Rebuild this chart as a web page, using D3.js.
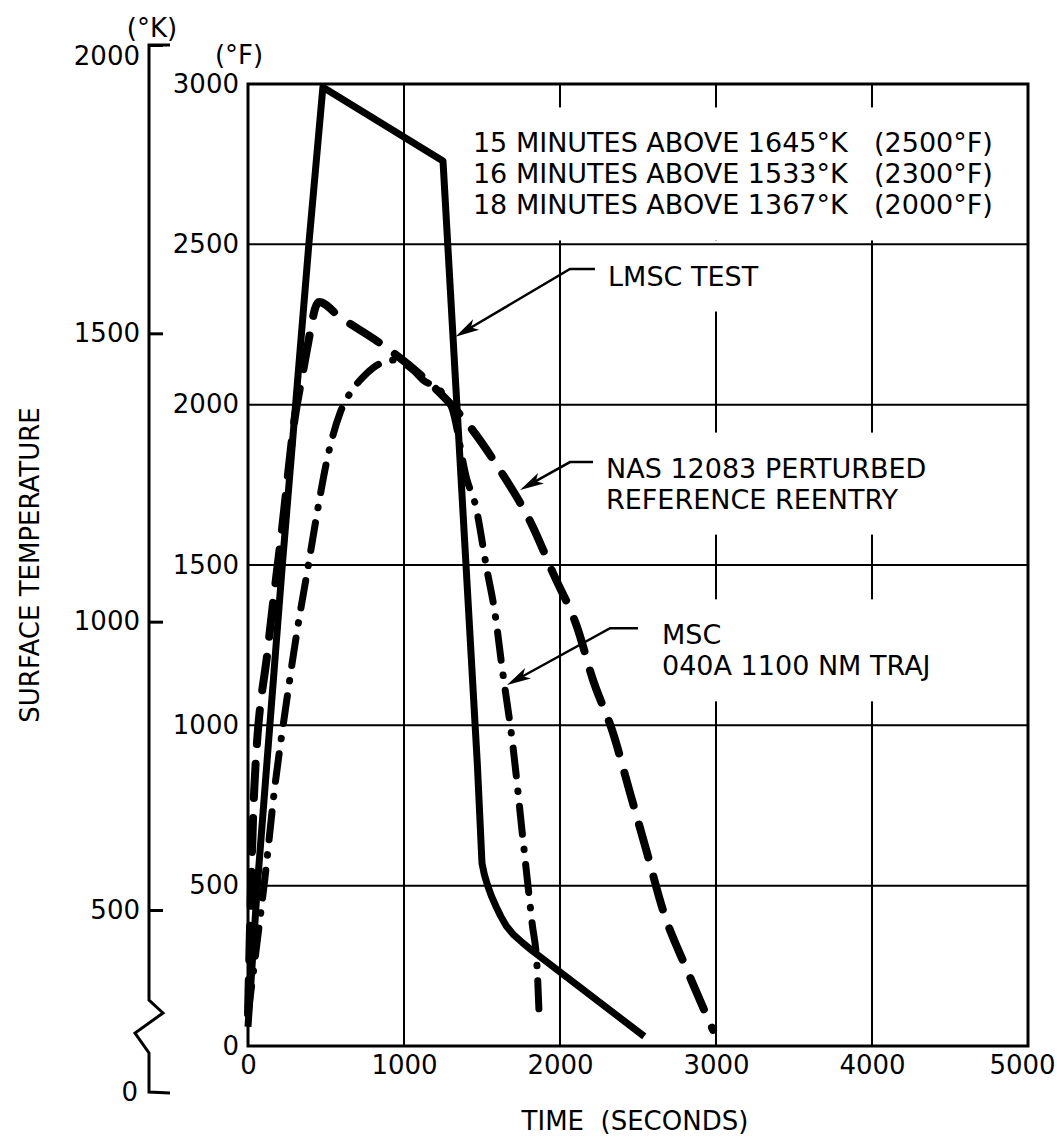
<!DOCTYPE html>
<html>
<head>
<meta charset="utf-8">
<script src="https://cdn.jsdelivr.net/npm/d3@7"></script>
<style>
  body { margin: 0; background: #fff; }
  text { font-family: "DejaVu Sans", sans-serif; fill: #000; }
</style>
</head>
<body>
<script>
// time (seconds) vs surface temperature (deg F)
var lmscTime = [0, 60, 140, 220, 305, 390, 480, 1250, 1470, 1500, 1515, 1535, 1560, 1590, 1620, 1655, 1700, 1760, 1820, 2540]
var lmscTemp = [60, 500, 1000, 1500, 2000, 2500, 2990, 2760, 880, 570, 535, 502, 468, 435, 405, 375, 348, 322, 298, 30]

var nasTime = [0, 40, 130, 220, 300, 355, 400, 430, 455, 590, 846, 1122, 1276, 1404, 1615, 1827, 1955, 2109, 2212, 2340, 2449, 2558, 2660, 2814, 2981]
var nasTemp = [100, 800, 1250, 1620, 1960, 2110, 2230, 2300, 2320, 2273, 2192, 2086, 2014, 1943, 1796, 1618, 1475, 1307, 1141, 976, 789, 602, 424, 237, 50]

var mscTime = [0, 60, 110, 170, 240, 310, 385, 455, 506, 590, 667, 737, 800, 930, 1058, 1122, 1231, 1310, 1404, 1455, 1532, 1583, 1628, 1699, 1763, 1821, 1853, 1865]
var mscTemp = [100, 330, 530, 800, 1050, 1280, 1494, 1696, 1827, 1974, 2045, 2086, 2114, 2139, 2108, 2077, 2045, 1985, 1765, 1693, 1484, 1350, 1182, 932, 642, 384, 246, 112]

var timeTicks = [0, 1000, 2000, 3000, 4000, 5000]
var tempTicksF = [0, 500, 1000, 1500, 2000, 2500, 3000]
var tempTicksK = [500, 1000, 1500, 2000]

var legendMinutes = [15, 16, 18]
var legendK = [1645, 1533, 1367]
var legendF = [2500, 2300, 2000]

var width = 1057, height = 1141
var margin = {top: 84, right: 29, bottom: 95, left: 248}
var w = width - margin.left - margin.right
var h = height - margin.top - margin.bottom

var svg = d3.select("body").append("svg")
    .attr("width", width)
    .attr("height", height)
var g = svg.append("g")
    .attr("transform", "translate(" + margin.left + "," + margin.top + ")")

var x = d3.scaleLinear().domain([0, 5000]).range([0, w])
var y = d3.scaleLinear().domain([0, 3000]).range([h, 0])
// kelvin scale, same slope as the F axis, drawn a little offset in the original
var yK = d3.scaleLinear().domain([500, 2000]).range([826, -39])
var plain = d3.format("d")

var vgridLayer = g.append("g")
var maskLayer = g.append("g")
var hgridLayer = g.append("g")
var curveLayer = g.append("g")
var noteLayer = g.append("g")

// grid: the vertical lines are broken where text sits, the horizontal ones are not
hgridLayer.selectAll(".hgrid")
    .data(tempTicksF)
  .enter().append("line")
    .attr("x1", 0).attr("x2", w)
    .attr("y1", function(d) { return y(d) })
    .attr("y2", function(d) { return y(d) })
    .attr("stroke", "#000").attr("stroke-width", 2)
vgridLayer.selectAll(".vgrid")
    .data(timeTicks)
  .enter().append("line")
    .attr("y1", 0).attr("y2", h)
    .attr("x1", function(d) { return x(d) })
    .attr("x2", function(d) { return x(d) })
    .attr("stroke", "#000").attr("stroke-width", 2)

// F axis labels
g.append("g")
    .call(d3.axisLeft(y).tickValues(tempTicksF).tickFormat(plain).tickSize(0).tickPadding(9))
    .call(function(a) { a.select(".domain").remove() })
    .selectAll("text").style("font-size", "26px").attr("font-family", null)

// time axis labels
var xAxis = g.append("g")
    .attr("transform", "translate(0," + h + ")")
    .call(d3.axisBottom(x).tickValues(timeTicks).tickFormat(plain).tickSize(0).tickPadding(10))
    .call(function(a) { a.select(".domain").remove() })
xAxis.selectAll("text").style("font-size", "26px").attr("font-family", null)
    .attr("dx", function(d) { return d === 5000 ? "-6" : null })

// kelvin axis with a break near zero
var kx = -99
var kAxis = g.append("g").attr("transform", "translate(" + kx + ",0)")
kAxis.call(d3.axisLeft(yK).tickValues(tempTicksK).tickFormat(plain).tickSize(-14).tickPadding(9))
kAxis.select(".domain").remove()
kAxis.selectAll(".tick line").attr("stroke-width", 3)
kAxis.selectAll("text").style("font-size", "26px").attr("font-family", null)
    .attr("dy", function(d) { return d === 2000 ? "0.75em" : "0.32em" })
kAxis.append("path")
    .attr("d", d3.line()([[21, yK(2000)], [0, yK(2000)], [0, 916], [14, 929], [-14, 949], [0, 969], [0, 1008], [21, 1009]]))
    .attr("fill", "none").attr("stroke", "#000").attr("stroke-width", 3)
kAxis.append("text")
    .attr("x", -11).attr("y", 1009).attr("dy", "0.32em")
    .attr("text-anchor", "end").style("font-size", "26px")
    .text("0")

// unit labels
svg.append("text").attr("x", 152).attr("y", 28).attr("dy", "0.35em")
    .attr("text-anchor", "middle").style("font-size", "26px").text("(°K)")
svg.append("text").attr("x", 239).attr("y", 55).attr("dy", "0.35em")
    .attr("text-anchor", "middle").style("font-size", "26px").text("(°F)")

svg.append("text")
    .attr("transform", "translate(30," + (margin.top + h / 2) + ") rotate(-90)")
    .attr("dy", "0.35em").attr("text-anchor", "middle")
    .style("font-size", "26px")
    .text("SURFACE TEMPERATURE")

svg.append("text")
    .attr("x", 635).attr("y", 1121).attr("dy", "0.35em")
    .attr("text-anchor", "middle").style("font-size", "26px")
    .attr("xml:space", "preserve").style("white-space", "pre")
    .text("TIME  (SECONDS)")

// frame
curveLayer.append("rect")
    .attr("width", w).attr("height", h)
    .attr("fill", "none").attr("stroke", "#000").attr("stroke-width", 3)

function series(t, v) {
    return t.map(function(d, i) { return [d, v[i]] })
}

var line = d3.line()
    .x(function(d) { return x(d[0]) })
    .y(function(d) { return y(d[1]) })
var smooth = d3.line()
    .x(function(d) { return x(d[0]) })
    .y(function(d) { return y(d[1]) })
    .curve(d3.curveMonotoneX)

curveLayer.append("path")
    .datum(series(nasTime, nasTemp))
    .attr("d", smooth)
    .attr("fill", "none").attr("stroke", "#000").attr("stroke-width", 8)
    .attr("stroke-linecap", "round").attr("stroke-dasharray", "34 20")

curveLayer.append("path")
    .datum(series(mscTime, mscTemp))
    .attr("d", smooth)
    .attr("fill", "none").attr("stroke", "#000").attr("stroke-width", 7)
    .attr("stroke-linecap", "round").attr("stroke-dasharray", "28 15 0.5 15")

curveLayer.append("path")
    .datum(series(lmscTime, lmscTemp))
    .attr("d", line)
    .attr("fill", "none").attr("stroke", "#000").attr("stroke-width", 7)
    .attr("stroke-linejoin", "round")

// text blocks get a white backing that breaks the grid lines, as in the original
function backing(sel, padX, padY) {
    var b = sel.node().getBBox()
    maskLayer.append("rect")
        .attr("x", b.x - padX).attr("y", b.y - padY)
        .attr("width", b.width + 2 * padX).attr("height", b.height + 2 * padY)
        .attr("fill", "#fff")
}

// legend block
var legend = noteLayer.append("g")
legendMinutes.forEach(function(m, i) {
    var ty = y(2816) + i * 31
    var t = legend.append("text").attr("y", ty).attr("dy", "0.35em").style("font-size", "27px")
    t.append("tspan").attr("x", x(1442))
        .text(m + " MINUTES ABOVE " + legendK[i] + "°K")
    t.append("tspan").attr("x", x(4013))
        .text("(" + legendF[i] + "°F)")
})
backing(legend, 8, 20)

// labelled leaders: text at [time, temp], leader end -> elbow -> tip
var notes = [
    {lines: ["LMSC TEST"], at: [2308, 2401], leader: [[2224, 2423], [2064, 2423], [1330, 2212]]},
    {lines: ["NAS 12083 PERTURBED", "REFERENCE REENTRY"], at: [2295, 1802], leader: [[2212, 1821], [2064, 1821], [1744, 1734]]},
    {lines: ["MSC", "040A 1100 NM TRAJ"], at: [2654, 1282], leader: [[2500, 1303], [2321, 1303], [1660, 1126]]}
]

notes.forEach(function(n) {
    var tg = noteLayer.append("g")
    n.lines.forEach(function(s, i) {
        tg.append("text")
            .attr("x", x(n.at[0])).attr("y", y(n.at[1]) + i * 31)
            .attr("dy", "0.35em").style("font-size", "27px")
            .text(s)
    })
    backing(tg, 8, 20)

    var pts = n.leader.map(function(p) { return [x(p[0]), y(p[1])] })
    var tip = pts[2], from = pts[1]
    var dx = tip[0] - from[0], dy = tip[1] - from[1], L = Math.hypot(dx, dy)
    var ux = dx / L, uy = dy / L, len = 24, half = 6
    var back = [tip[0] - ux * len, tip[1] - uy * len]
    var notch = [tip[0] - ux * len * 0.75, tip[1] - uy * len * 0.75]
    noteLayer.append("path")
        .attr("d", d3.line()([pts[0], pts[1], notch]))
        .attr("fill", "none").attr("stroke", "#000").attr("stroke-width", 2.5)
    noteLayer.append("path")
        .attr("d", d3.line()([tip, [back[0] - uy * half, back[1] + ux * half], notch, [back[0] + uy * half, back[1] - ux * half]]) + "Z")
        .attr("fill", "#000")
})
</script>
</body>
</html>
